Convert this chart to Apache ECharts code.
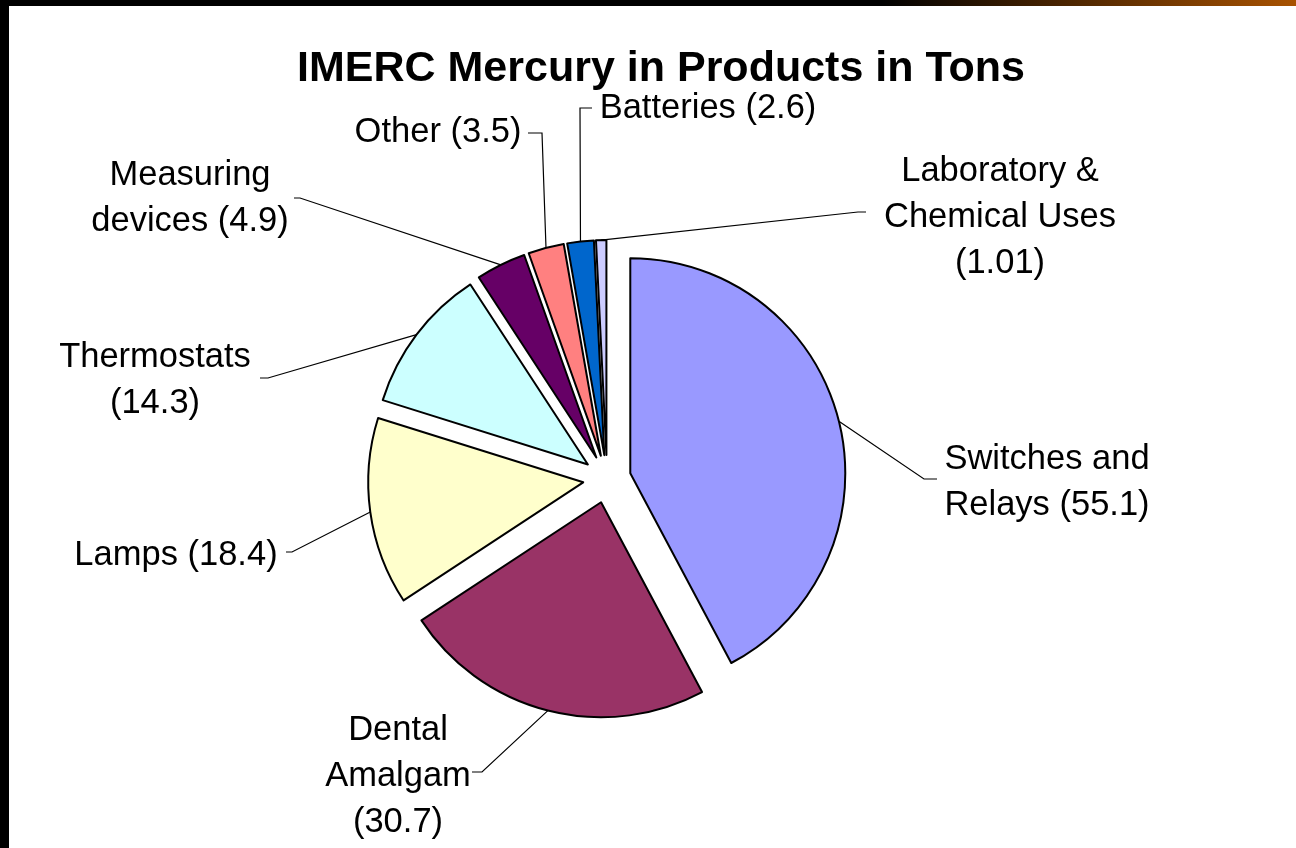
<!DOCTYPE html>
<html>
<head>
<meta charset="utf-8">
<script src="https://cdn.jsdelivr.net/npm/echarts@6/dist/echarts.min.js"></script>
<style>
    html, body { margin: 0; padding: 0; background: #ffffff; }
    #chart { width: 1296px; height: 848px; }
</style>
</head>
<body>
<div id="chart"></div>
<script>
// 数据
const categories = ["Switches and\nRelays", "Dental\nAmalgam", "Lamps", "Thermostats",
    "Measuring\ndevices", "Other", "Batteries", "Laboratory &\nChemical Uses"];
const tons = [55.1, 30.7, 18.4, 14.3, 4.9, 3.5, 2.6, 1.01];
const valueOnNewLine = [false, true, false, true, false, false, false, true];
const sliceColors = ["#9999ff", "#993366", "#ffffcc", "#ccffff", "#660066", "#ff8080", "#0066cc", "#ccccff"];

// 标签位置 [x, y] 以及引导线折点
const labelPos = [[1047, 482], [398, 776], [176, 555], [155, 380], [190, 198], [438, 132], [708, 108], [1000, 217]];
const lineBend = [
    [[924, 479], [937, 479]],
    [[482, 772], [472, 772]],
    [[292, 552], [286, 552]],
    [[268, 378], [260, 378]],
    [[300, 198], [294, 198]],
    [[542, 133], [528, 133]],
    [[580, 108], [592, 108]],
    [[858, 212], [866, 212]]
];

const pieCenter = [607, 479];
const pieRadius = 215;
const explode = 24;

const chartObj = echarts.init(document.getElementById("chart"));

const seriesData = categories.map(function (name, i) {
    return { name: name, value: tons[i] };
});

let option = {
    animation: false,
    backgroundColor: "#ffffff",
    title: {
        text: "IMERC Mercury in Products in Tons",
        left: 656,
        textAlign: "center",
        top: 43,
        textStyle: {
            fontFamily: "Liberation Sans, Arial, sans-serif",
            fontSize: 43,
            fontWeight: "bold",
            color: "#000000"
        }
    },
    graphic: [
        { type: "rect", shape: { x: 0, y: 0, width: 9, height: 848 }, style: { fill: "#000000" } },
        {
            type: "rect",
            shape: { x: 0, y: 0, width: 1296, height: 6 },
            style: {
                fill: new echarts.graphic.LinearGradient(0, 0, 1, 0, [
                    { offset: 0, color: "#000000" },
                    { offset: 0.68, color: "#000000" },
                    { offset: 1, color: "#a85200" }
                ])
            }
        }
    ],
    series: [
        // 扇区（全部分离）
        {
            type: "pie",
            center: pieCenter,
            radius: pieRadius,
            startAngle: 90,
            clockwise: true,
            selectedMode: "multiple",
            selectedOffset: explode,
            emphasis: { disabled: true },
            silent: true,
            itemStyle: { borderColor: "#000000", borderWidth: 2 },
            label: { show: false },
            labelLine: { show: false },
            data: seriesData.map(function (d, i) {
                return {
                    name: d.name,
                    value: d.value,
                    selected: true,
                    itemStyle: { color: sliceColors[i] }
                };
            })
        },
        // 标签与引导线（透明扇区，半径含分离距离）
        {
            type: "pie",
            center: pieCenter,
            radius: pieRadius + explode,
            startAngle: 90,
            clockwise: true,
            silent: true,
            avoidLabelOverlap: false,
            emphasis: { disabled: true },
            itemStyle: { color: "rgba(0,0,0,0)", borderWidth: 0 },
            label: {
                show: true,
                position: "outside",
                fontFamily: "Liberation Sans, Arial, sans-serif",
                fontSize: 34.5,
                lineHeight: 46,
                color: "#000000",
                formatter: function (p) {
                    return p.name + (valueOnNewLine[p.dataIndex] ? "\n" : " ") + "(" + p.value + ")";
                }
            },
            labelLine: {
                show: true,
                length: 20,
                length2: 10,
                lineStyle: { color: "#000000", width: 1.2 }
            },
            labelLayout: function (params) {
                const i = params.dataIndex;
                const start = params.labelLinePoints ? params.labelLinePoints[0] : lineBend[i][0];
                return {
                    x: labelPos[i][0],
                    y: labelPos[i][1],
                    align: "center",
                    verticalAlign: "middle",
                    labelLinePoints: [start, lineBend[i][0], lineBend[i][1]]
                };
            },
            data: seriesData
        }
    ]
};

chartObj.setOption(option);
</script>
</body>
</html>
